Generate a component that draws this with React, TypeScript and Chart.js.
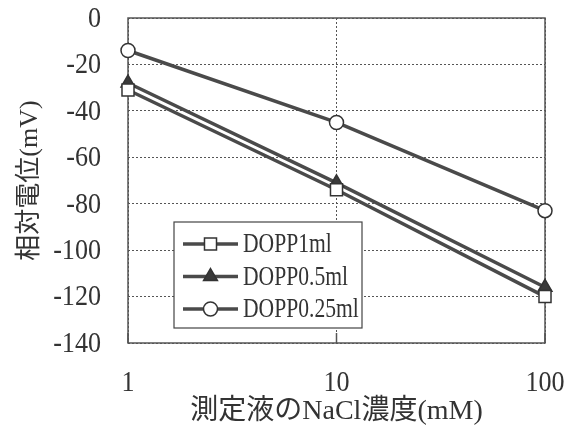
import React, { useEffect, useRef } from 'react';
import { Chart, registerables } from 'chart.js';

Chart.register(...registerables);

const concentrations = [1, 10, 100];
const dopp1ml = [-31, -74, -120];
const dopp05ml = [-28, -71, -116];
const dopp025ml = [-14, -45, -83];
const seriesLabels = ['DOPP1ml', 'DOPP0.5ml', 'DOPP0.25ml'];
const xTickValues = [1, 10, 100];
const yTickValues = [0, -20, -40, -60, -80, -100, -120, -140];
const yTitle = '相対電位(mV)';
const xTitle = '測定液のNaCl濃度(mM)';

const LINE = '#4a4a4a';
const INK = '#333333';
const SERIF = '"Liberation Serif", "Noto Sans CJK JP", serif';

function drawMarker(ctx: CanvasRenderingContext2D, style: string, x: number, y: number, r: number, fill: string) {
  ctx.save();
  ctx.beginPath();
  if (style === 'rect') {
    const s = Math.SQRT1_2 * r;
    ctx.rect(x - s, y - s, 2 * s, 2 * s);
  } else if (style === 'triangle') {
    for (let i = 0; i < 3; i++) {
      const a = -Math.PI / 2 + (i * 2 * Math.PI) / 3;
      const px = x + r * Math.cos(a);
      const py = y + r * Math.sin(a);
      if (i === 0) ctx.moveTo(px, py);
      else ctx.lineTo(px, py);
    }
    ctx.closePath();
  } else {
    ctx.arc(x, y, r, 0, Math.PI * 2);
  }
  ctx.fillStyle = fill;
  ctx.fill();
  ctx.lineWidth = 1.5;
  ctx.strokeStyle = INK;
  ctx.stroke();
  ctx.restore();
}

function drawCondensed(ctx: CanvasRenderingContext2D, text: string, x: number, y: number, size: number, sx: number, align: 'left' | 'right' | 'center') {
  ctx.save();
  ctx.font = `${size}px ${SERIF}`;
  const w = ctx.measureText(text).width * sx;
  let left = x;
  if (align === 'right') left = x - w;
  else if (align === 'center') left = x - w / 2;
  ctx.translate(left, y);
  ctx.scale(sx, 1);
  ctx.fillStyle = INK;
  ctx.textAlign = 'left';
  ctx.textBaseline = 'middle';
  ctx.fillText(text, 0, 0);
  ctx.restore();
}

export default function App() {
  const ref = useRef<HTMLCanvasElement>(null);

  useEffect(() => {
    const canvas = ref.current!;
    const styles = [
      { pointStyle: 'rect', radius: 8.5, fill: '#ffffff' },
      { pointStyle: 'triangle', radius: 8, fill: '#3a3a3a' },
      { pointStyle: 'circle', radius: 7, fill: '#ffffff' },
    ];
    const seriesValues = [dopp1ml, dopp05ml, dopp025ml];

    const customPlugin = {
      id: 'custom',
      beforeDraw(chart: any) {
        const { ctx, width, height } = chart;
        ctx.save();
        ctx.fillStyle = '#ffffff';
        ctx.fillRect(0, 0, width, height);
        ctx.restore();
      },
      beforeDatasetsDraw(chart: any) {
        const { ctx, chartArea: a, scales } = chart;
        ctx.save();
        ctx.strokeStyle = '#555555';
        ctx.lineWidth = 1.5;
        ctx.strokeRect(a.left, a.top, a.right - a.left, a.bottom - a.top);
        xTickValues.forEach((v) => {
          const px = scales.x.getPixelForValue(v);
          ctx.beginPath();
          ctx.moveTo(px, a.bottom);
          ctx.lineTo(px, a.bottom - 10);
          ctx.stroke();
        });
        ctx.restore();
      },
      afterDraw(chart: any) {
        const { ctx, chartArea: a, scales } = chart;
        ctx.save();
        // tick labels
        yTickValues.forEach((v) => {
          const py = scales.y.getPixelForValue(v);
          drawCondensed(ctx, String(v), a.left - 27, py + 1, 30, 0.87, 'right');
        });
        xTickValues.forEach((v) => {
          const px = scales.x.getPixelForValue(v);
          drawCondensed(ctx, String(v), px, a.bottom + 40, 30, 0.87, 'center');
        });

        ctx.fillStyle = INK;
        // y title
        ctx.save();
        ctx.translate(30, (a.top + a.bottom) / 2);
        ctx.rotate(-Math.PI / 2);
        ctx.font = `26px ${SERIF}`;
        ctx.textAlign = 'center';
        ctx.textBaseline = 'middle';
        ctx.fillText(yTitle, 0, 0);
        ctx.restore();
        // x title
        ctx.font = `28px ${SERIF}`;
        ctx.textAlign = 'center';
        ctx.textBaseline = 'middle';
        ctx.fillText(xTitle, (a.left + a.right) / 2, 412);

        // legend
        const bx = a.left + 46;
        const by = a.top + 204;
        const bw = 188;
        const bh = 106;
        ctx.fillStyle = '#ffffff';
        ctx.fillRect(bx, by, bw, bh);
        ctx.strokeStyle = '#444444';
        ctx.lineWidth = 1.2;
        ctx.strokeRect(bx, by, bw, bh);
        seriesLabels.forEach((label, i) => {
          const cy = by + 22 + i * 32.5;
          ctx.beginPath();
          ctx.moveTo(bx + 9, cy);
          ctx.lineTo(bx + 64, cy);
          ctx.strokeStyle = LINE;
          ctx.lineWidth = 3.5;
          ctx.stroke();
          const st = styles[i];
          drawMarker(ctx, st.pointStyle, bx + 36.5, cy, st.radius, st.fill);
          drawCondensed(ctx, label, bx + 69, cy + 1, 27, 0.8, 'left');
        });
        ctx.restore();
      },
    };

    const chart = new Chart(canvas, {
      type: 'line',
      data: {
        datasets: seriesLabels.map((label, i) => ({
          label,
          data: concentrations.map((c, j) => ({ x: c, y: seriesValues[i][j] })),
          borderColor: LINE,
          borderWidth: 3.5,
          pointStyle: styles[i].pointStyle as any,
          pointRadius: styles[i].radius,
          pointBackgroundColor: styles[i].fill,
          pointBorderColor: INK,
          pointBorderWidth: 1.5,
          tension: 0,
          clip: false as any,
        })),
      },
      options: {
        animation: false,
        responsive: false,
        layout: { padding: { top: 18, right: 27, left: 0, bottom: 0 } },
        plugins: {
          legend: { display: false },
          tooltip: { enabled: false },
        },
        scales: {
          x: {
            type: 'logarithmic',
            min: 1,
            max: 100,
            afterBuildTicks: (scale: any) => {
              scale.ticks = xTickValues.map((v) => ({ value: v }));
            },
            afterFit: (scale: any) => {
              scale.height = 87;
            },
            ticks: { display: false, autoSkip: false },
            grid: {
              color: '#555555',
              lineWidth: 1,
              drawTicks: false,
            },
            border: { display: false, dash: [2, 2] } as any,
          },
          y: {
            type: 'linear',
            min: -140,
            max: 0,
            afterBuildTicks: (scale: any) => {
              scale.ticks = yTickValues.map((v) => ({ value: v }));
            },
            afterFit: (scale: any) => {
              scale.width = 128;
            },
            ticks: { display: false },
            grid: {
              color: '#555555',
              lineWidth: 1,
              drawTicks: false,
            },
            border: { display: false, dash: [2, 2] } as any,
          },
        },
      },
      plugins: [customPlugin],
    });

    return () => chart.destroy();
  }, []);

  return (
    <div style={{ position: 'fixed', left: 0, top: 0, width: 572, height: 430, background: '#fff' }}>
      <canvas ref={ref} width={572} height={430} />
    </div>
  );
}
